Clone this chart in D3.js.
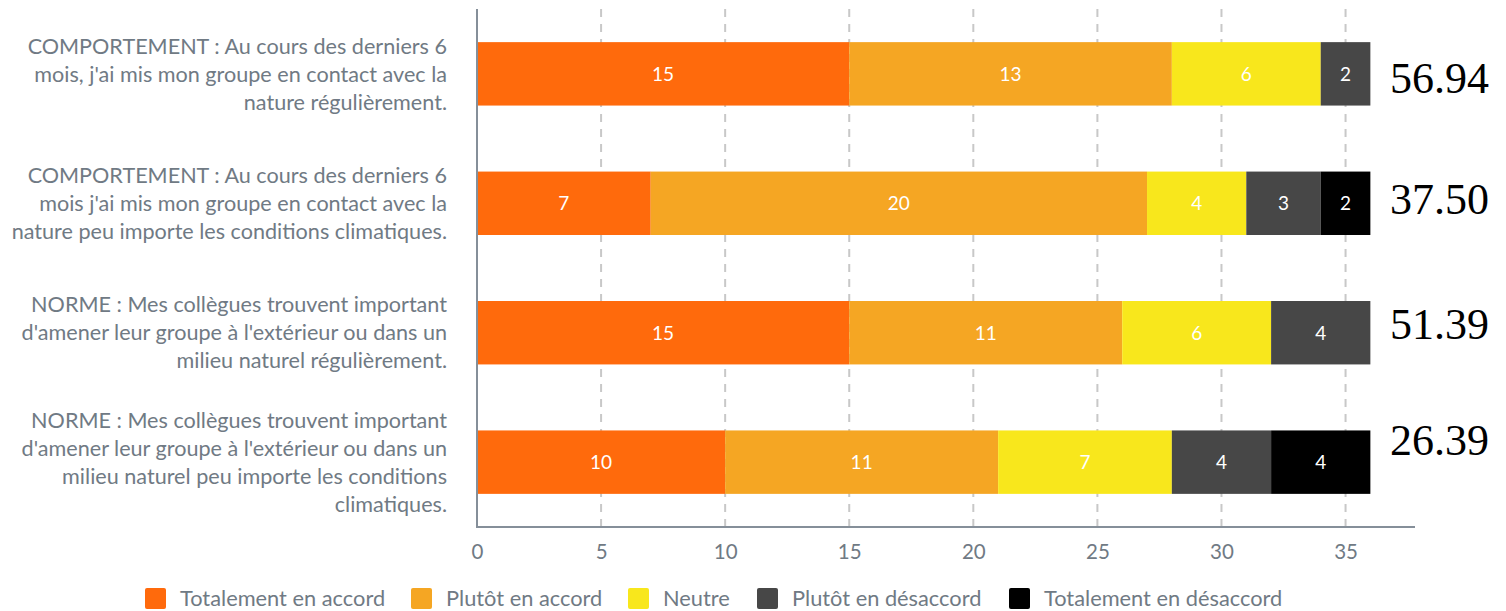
<!DOCTYPE html>
<html>
<head>
<meta charset="utf-8">
<script src="https://cdn.jsdelivr.net/npm/d3@7"></script>
<style>
  html, body { margin: 0; padding: 0; background: #fff; }
  svg { display: block; font-family: Lato, "Open Sans", sans-serif; }
</style>
</head>
<body>
<svg id="chart" width="1506" height="611"></svg>
<script>
// Survey statements (one row each), split into display lines
const statements = [
  ["COMPORTEMENT : Au cours des derniers 6", "mois, j'ai mis mon groupe en contact avec la", "nature régulièrement."],
  ["COMPORTEMENT : Au cours des derniers 6", "mois j'ai mis mon groupe en contact avec la", "nature peu importe les conditions climatiques."],
  ["NORME : Mes collègues trouvent important", "d'amener leur groupe à l'extérieur ou dans un", "milieu naturel régulièrement."],
  ["NORME : Mes collègues trouvent important", "d'amener leur groupe à l'extérieur ou dans un", "milieu naturel peu importe les conditions", "climatiques."]
];

// Answer categories (stack order)
const answers = ["Totalement en accord", "Plutôt en accord", "Neutre", "Plutôt en désaccord", "Totalement en désaccord"];
const answerColors = ["#ff6a0c", "#f5a623", "#f8e71c", "#474747", "#000000"];

// Counts per statement, per answer
const totalAccord    = [15, 7, 15, 10];
const plutotAccord   = [13, 20, 11, 11];
const neutre         = [6, 4, 6, 7];
const plutotDesacc   = [2, 3, 4, 4];
const totalDesacc    = [0, 2, 0, 4];

// Score shown at the end of each row
const scores = ["56.94", "37.50", "51.39", "26.39"];
// Vertical nudge of each score relative to its row centre
const scoreDy = [19.5, 10.5, 6.5, -7.5];

const xTicks = [0, 5, 10, 15, 20, 25, 30, 35];

const series = [totalAccord, plutotAccord, neutre, plutotDesacc, totalDesacc];

const rows = statements.map((s, i) => {
  const r = { idx: i };
  answers.forEach((a, j) => { r[a] = series[j][i]; });
  return r;
});

const svg = d3.select("#chart");
const textGray = "#707a84";

const x = d3.scaleLinear().domain([0, 38]).range([477, 1420]);
const y = d3.scaleBand().domain(d3.range(statements.length)).range([9, 527])
  .paddingInner(0.51).paddingOuter(0.256);

// Dashed vertical grid
svg.append("g").selectAll("line").data(xTicks.filter(t => t > 0)).join("line")
  .attr("x1", d => x(d)).attr("x2", d => x(d))
  .attr("y1", 9).attr("y2", 527)
  .attr("stroke", "#c8c8c8").attr("stroke-width", 2)
  .attr("stroke-dasharray", "8,7");

// Stacked bars
const stack = d3.stack().keys(answers)(rows);
const layers = svg.append("g").selectAll("g").data(stack).join("g")
  .attr("fill", (d, i) => answerColors[i]);

layers.selectAll("rect").data(d => d).join("rect")
  .attr("x", d => x(d[0]))
  .attr("y", d => y(d.data.idx))
  .attr("width", d => x(d[1]) - x(d[0]))
  .attr("height", y.bandwidth());

// Segment value labels
layers.selectAll("text").data(d => d.filter(v => v[1] - v[0] > 0)).join("text")
  .attr("x", d => (x(d[0]) + x(d[1])) / 2)
  .attr("y", d => y(d.data.idx) + y.bandwidth() / 2)
  .attr("dy", "0.36em")
  .attr("text-anchor", "middle")
  .attr("fill", "#fff")
  .attr("font-size", 19)
  .text(d => d[1] - d[0]);

// Axes
const xAxis = svg.append("g").attr("transform", "translate(0,527)")
  .call(d3.axisBottom(x).tickValues(xTicks).tickSize(0).tickPadding(17));
xAxis.select(".domain").attr("stroke", "#858f99").attr("stroke-width", 2)
  .attr("d", `M${x(0)},0H1415`);
xAxis.selectAll("text").attr("font-size", 20.5).attr("fill", textGray)
  .attr("font-family", "Lato, sans-serif");

svg.append("line")
  .attr("x1", x(0)).attr("x2", x(0)).attr("y1", 9).attr("y2", 528)
  .attr("stroke", "#858f99").attr("stroke-width", 2);

// Statement labels
const lineH = 28;
svg.append("g").selectAll("text").data(statements).join("text")
  .attr("text-anchor", "end")
  .attr("font-size", 21.6)
  .attr("fill", textGray)
  .each(function(lines, i) {
    const cy = y(i) + y.bandwidth() / 2;
    const top = cy - (lines.length - 1) * lineH / 2;
    d3.select(this).selectAll("tspan").data(lines).join("tspan")
      .attr("x", 447)
      .attr("y", (d, k) => top + k * lineH)
      .attr("dy", "0.36em")
      .text(d => d);
  });

// Scores
svg.append("g").selectAll("text").data(scores).join("text")
  .attr("x", 1390)
  .attr("y", (d, i) => y(i) + y.bandwidth() / 2 + scoreDy[i])
  .attr("font-family", "'Liberation Serif', 'Times New Roman', serif")
  .attr("font-size", 44)
  .attr("fill", "#000")
  .text(d => d);

// Legend
const legendX = [145, 411, 628, 757, 1009];
const leg = svg.append("g").selectAll("g").data(answers).join("g")
  .attr("transform", (d, i) => `translate(${legendX[i]},588)`);
leg.append("rect").attr("width", 21).attr("height", 21).attr("rx", 2)
  .attr("fill", (d, i) => answerColors[i]);
leg.append("text").attr("x", 35).attr("y", 10.5).attr("dy", "0.36em")
  .attr("font-size", 21.8).attr("fill", textGray).text(d => d);
</script>
</body>
</html>
